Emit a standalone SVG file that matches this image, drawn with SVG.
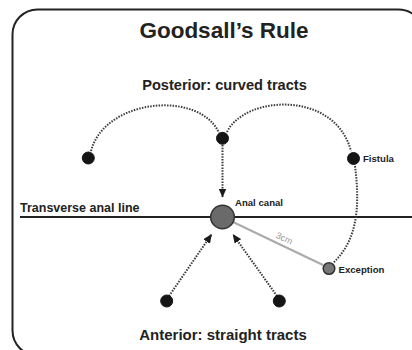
<svg xmlns="http://www.w3.org/2000/svg" width="412" height="350" viewBox="0 0 412 350">
  <defs>
    <style>
      text { font-family: "Liberation Sans", Arial, sans-serif; font-weight: bold; fill: #222; }
      .title { font-size: 22.5px; text-anchor: middle; }
      .sub { font-size: 14.6px; text-anchor: middle; }
      .lbl { font-size: 9.6px; }
      .dot { fill: #151515; stroke: #151515; stroke-width: 1; }
      .gdot { fill: #777; stroke: #333; stroke-width: 1.5; }
      .tract { fill: none; stroke: #3a3a3a; stroke-width: 2; stroke-dasharray: 1.5 1.3; }
    </style>
    <marker id="arr" markerUnits="userSpaceOnUse" markerWidth="9" markerHeight="8" refX="8.5" refY="4" orient="auto">
      <path d="M0,0 L9,4 L0,8 Z" fill="#1a1a1a"/>
    </marker>
  </defs>

  <rect x="12.5" y="9.5" width="411" height="346" rx="25" ry="25" fill="#fff" stroke="#222" stroke-width="2"/>

  <text class="title" x="224" y="38">Goodsall’s Rule</text>
  <text class="sub" x="224.5" y="90">Posterior: curved tracts</text>
  <text class="sub" x="223" y="340" style="font-size:15px">Anterior: straight tracts</text>

  <g id="transverse-line">
    <line x1="20" y1="217" x2="412" y2="217" stroke="#222" stroke-width="2"/>
    <text x="20" y="211.5" style="font-size:12.5px">Transverse anal line</text>
  </g>

  <g id="connectors">
    <path class="tract" d="M91 151 C105 98, 200 90, 219 133"/>
    <path class="tract" d="M227 132 C245 95, 335 90, 351 151"/>
    <path class="tract" d="M355 166 C360 205, 358 240, 333 263"/>
    <line class="tract" x1="222.5" y1="145" x2="222.5" y2="197" marker-end="url(#arr)"/>
    <line class="tract" x1="169" y1="296" x2="211.5" y2="234.5" marker-end="url(#arr)"/>
    <line class="tract" x1="277" y1="296" x2="233" y2="234.5" marker-end="url(#arr)"/>
    <line x1="233" y1="222" x2="323" y2="265" stroke="#aaa" stroke-width="2"/>
    <text x="283" y="241" text-anchor="middle" transform="rotate(26 283 241)" style="font-size:9px;font-weight:normal;fill:#999">3cm</text>
  </g>

  <g id="anal-canal">
    <circle cx="222.5" cy="217" r="11.8" fill="#6a6a6a" stroke="#333" stroke-width="1.5"/>
    <text class="lbl" x="235" y="205.5">Anal canal</text>
  </g>
  <g id="posterior-left">
    <circle class="dot" cx="88.3" cy="158" r="6"/>
  </g>
  <g id="posterior-mid">
    <circle class="dot" cx="222.5" cy="138.3" r="6"/>
  </g>
  <g id="fistula">
    <circle class="dot" cx="353.5" cy="158.5" r="6"/>
    <text class="lbl" x="363" y="162">Fistula</text>
  </g>
  <g id="exception">
    <circle class="gdot" cx="329" cy="268.5" r="5.8"/>
    <text class="lbl" x="338.5" y="273">Exception</text>
  </g>
  <g id="anterior-left">
    <circle class="dot" cx="166.7" cy="301" r="6"/>
  </g>
  <g id="anterior-right">
    <circle class="dot" cx="279.3" cy="301" r="6"/>
  </g>
</svg>
